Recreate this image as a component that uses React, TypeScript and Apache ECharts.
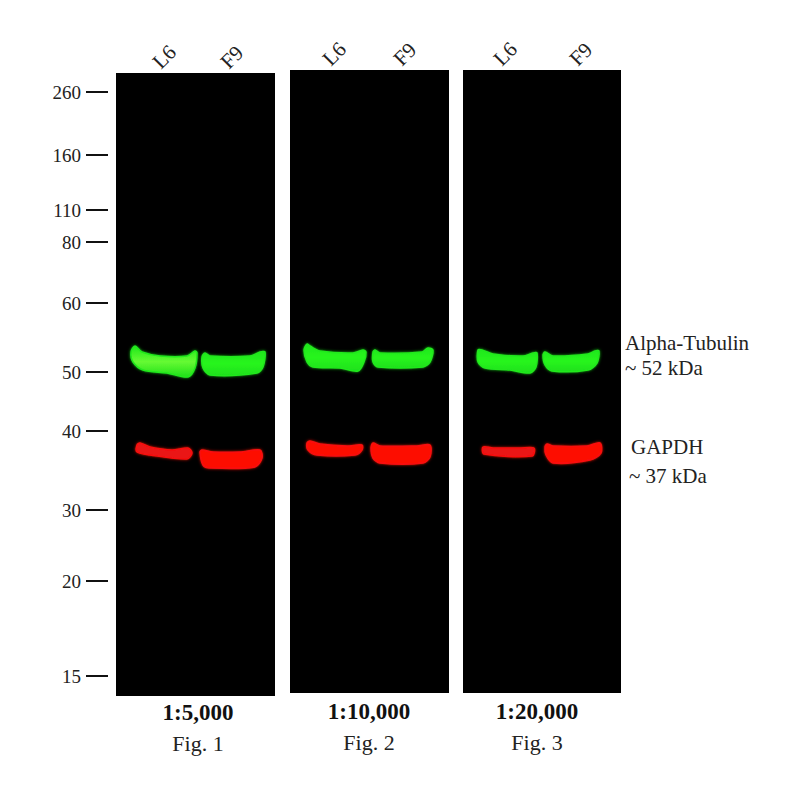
import { useEffect, useRef } from 'react';
import * as echarts from 'echarts';

const FONT = '"Liberation Serif", "Times New Roman", serif';

// marker ladder: kDa label and how far it ran down the blot
const markerKda = [260, 160, 110, 80, 60, 50, 40, 30, 20, 15];
const markerMigration = [19, 82, 137, 169, 230, 299, 358, 437, 508, 603];

const laneNames = ['L6', 'F9'];
const dilutions = ['1:5,000', '1:10,000', '1:20,000'];
const figNames = ['Fig. 1', 'Fig. 2', 'Fig. 3'];

// band outlines, [lane position, migration]
const fig1TubulinL6 = [[19, 273], [15, 279], [17, 289], [27, 297], [51, 300], [72, 304], [79, 295], [81, 280], [79, 278], [71, 283], [44, 283], [26, 279]];
const fig1TubulinF9 = [[86, 284], [87, 295], [94, 302], [141, 300], [147, 294], [149, 279], [144, 279], [134, 283], [94, 283], [89, 280]];
const fig1GapdhL6 = [[21, 372], [21, 379], [34, 382], [71, 386], [76, 380], [72, 375], [56, 377], [34, 374], [24, 370]];
const fig1GapdhF9 = [[84, 379], [87, 392], [94, 395], [139, 394], [146, 385], [144, 377], [124, 379], [97, 379], [86, 377]];

const fig2TubulinL6 = [[17, 274], [14, 280], [17, 292], [23, 297], [50, 298], [68, 301], [74, 292], [76, 282], [73, 280], [63, 283], [30, 281], [20, 276]];
const fig2TubulinF9 = [[83, 282], [83, 292], [88, 297], [133, 297], [140, 292], [143, 280], [138, 278], [132, 282], [90, 283], [85, 280]];
const fig2GapdhL6 = [[17, 373], [18, 380], [27, 385], [65, 385], [72, 380], [72, 375], [57, 376], [30, 374], [20, 371]];
const fig2GapdhF9 = [[81, 378], [83, 388], [90, 393], [133, 393], [140, 387], [140, 375], [127, 376], [90, 376], [83, 373]];

const fig3TubulinL6 = [[15, 280], [15, 292], [22, 298], [47, 300], [67, 303], [73, 297], [74, 283], [70, 283], [60, 286], [30, 284], [19, 280]];
const fig3TubulinF9 = [[80, 285], [82, 295], [89, 301], [125, 300], [134, 293], [136, 281], [132, 281], [125, 284], [90, 286], [82, 282]];
const fig3GapdhL6 = [[20, 377], [21, 384], [69, 386], [71, 378], [57, 378], [30, 378]];
const fig3GapdhF9 = [[82, 377], [83, 385], [90, 393], [127, 390], [138, 383], [137, 373], [124, 376], [90, 376], [84, 374]];

const figBands = [
  [fig1TubulinL6, fig1TubulinF9, fig1GapdhL6, fig1GapdhF9],
  [fig2TubulinL6, fig2TubulinF9, fig2GapdhL6, fig2GapdhF9],
  [fig3TubulinL6, fig3TubulinF9, fig3GapdhL6, fig3GapdhF9],
];
const figLanePos = [[40, 108], [36, 107], [34, 110]];

const panelRects = [
  { left: 116, top: 73, width: 159, height: 623 },
  { left: 290, top: 70, width: 159, height: 623 },
  { left: 463, top: 70, width: 158, height: 623 },
];
const captionCenters = [198, 369, 537];

function bandFill(panel: number, band: number) {
  if (band < 2) {
    const mid = panel === 0 && band === 0 ? '#66fa33' : '#28f51e';
    return new echarts.graphic.LinearGradient(0, 0, 0, 1, [
      { offset: 0, color: '#1ee81a' },
      { offset: 0.5, color: mid },
      { offset: 1, color: '#1ee01a' },
    ]);
  }
  return band === 2 && panel !== 1 ? '#ea1418' : '#fd0c06';
}

export default function App() {
  const chartRef = useRef<HTMLDivElement>(null);

  useEffect(() => {
    if (!chartRef.current) return;
    const chart = echarts.init(chartRef.current, undefined, { renderer: 'svg' });

    chart.setOption({
      animation: false,
      backgroundColor: '#fff',
      title: dilutions.map((d, i) => ({
        text: d,
        subtext: figNames[i],
        left: captionCenters[i],
        top: i === 0 ? 701 : 700,
        textAlign: 'center',
        padding: 0,
        itemGap: 8,
        textStyle: { fontFamily: FONT, fontSize: 23, fontWeight: 'bold', color: '#111' },
        subtextStyle: { fontFamily: FONT, fontSize: 22, color: '#222' },
      })),
      grid: [
        ...panelRects.map((r) => ({
          ...r,
          show: true,
          backgroundColor: '#000',
          borderWidth: 0,
        })),
        // narrow strip for the ladder, its left edge is where the ticks begin
        { left: 108, top: 73, width: 8, height: 623, show: false },
      ],
      xAxis: [
        ...panelRects.map((_, i) => ({
          type: 'value',
          gridIndex: i,
          position: 'top',
          min: 0,
          max: panelRects[i].width,
          splitLine: { show: false },
          axisLine: { show: false },
          axisTick: { show: false },
          axisLabel: {
            customValues: figLanePos[i],
            formatter: (v: number) => laneNames[figLanePos[i].indexOf(v)],
            rotate: 45,
            margin: 8,
            fontFamily: FONT,
            fontSize: 21,
            color: '#222',
          },
        })),
        { type: 'value', gridIndex: 3, show: false, min: 0, max: 1 },
      ],
      yAxis: [
        ...panelRects.map((_, i) => ({
          type: 'value',
          gridIndex: i,
          inverse: true,
          min: 0,
          max: 623,
          show: false,
        })),
        {
          type: 'value',
          gridIndex: 3,
          inverse: true,
          min: 0,
          max: 623,
          splitLine: { show: false },
          axisLine: { show: false },
          axisTick: {
            show: true,
            customValues: markerMigration,
            length: 22,
            lineStyle: { color: '#111', width: 2 },
          },
          axisLabel: {
            customValues: markerMigration,
            formatter: (v: number) => String(markerKda[markerMigration.indexOf(v)]),
            margin: 27,
            fontFamily: FONT,
            fontSize: 19,
            color: '#222',
          },
        },
      ],
      series: figBands.map((bands, panel) => ({
        type: 'custom',
        xAxisIndex: panel,
        yAxisIndex: panel,
        data: bands.map((b) => b[0]),
        renderItem: (params: any, api: any) => ({
          type: 'polygon',
          shape: {
            points: bands[params.dataIndex].map((p) => api.coord(p)),
            smooth: 0.3,
          },
          style: {
            fill: bandFill(panel, params.dataIndex),
            stroke: params.dataIndex < 2 ? '#20e81c' : '#f8100c',
            lineWidth: 1.5,
            shadowBlur: 3,
            shadowColor: params.dataIndex < 2 ? 'rgba(20,230,20,0.8)' : 'rgba(255,20,10,0.8)',
          },
        }),
      })),
      graphic: [
        { type: 'text', left: 625, top: 332, style: { text: 'Alpha-Tubulin', fontFamily: FONT, fontSize: 21, fill: '#222' } },
        { type: 'text', left: 625, top: 357, style: { text: '~ 52 kDa', fontFamily: FONT, fontSize: 21, fill: '#222' } },
        { type: 'text', left: 631, top: 436, style: { text: 'GAPDH', fontFamily: FONT, fontSize: 21, fill: '#222' } },
        { type: 'text', left: 629, top: 465, style: { text: '~ 37 kDa', fontFamily: FONT, fontSize: 21, fill: '#222' } },
      ],
    });

    return () => {
      chart.dispose();
    };
  }, []);

  return <div ref={chartRef} style={{ position: 'fixed', left: 0, top: 0, width: 800, height: 800 }} />;
}
